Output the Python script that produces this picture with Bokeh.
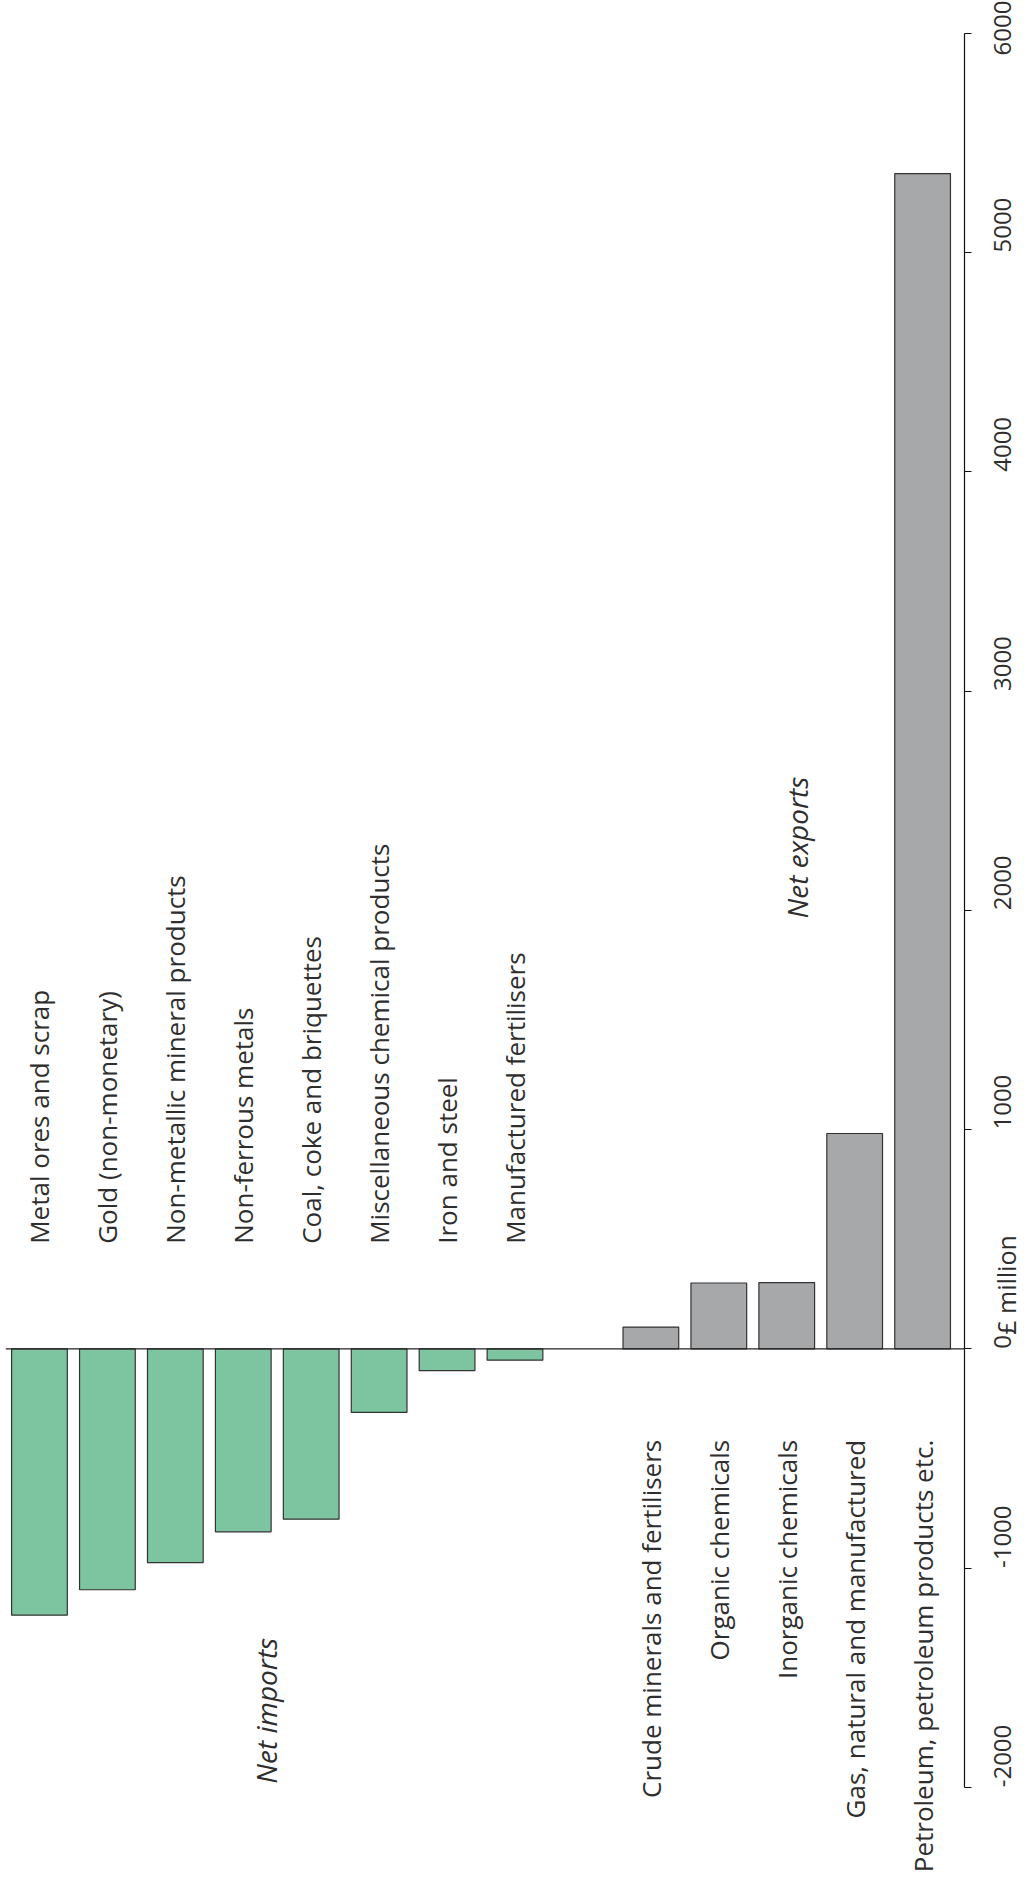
import math
from bokeh.plotting import figure
from bokeh.models import ColumnDataSource, FactorRange, Range1d, FixedTicker, Label
from bokeh.core.properties import value
from bokeh.transform import dodge
from bokeh.embed import file_html
from bokeh.resources import INLINE

# ---- data ----
import_categories = [
    "Metal ores and scrap",
    "Gold (non-monetary)",
    "Non-metallic mineral products",
    "Non-ferrous metals",
    "Coal, coke and briquettes",
    "Miscellaneous chemical products",
    "Iron and steel",
    "Manufactured fertilisers",
]
import_values = [-1215, -1099, -975, -835, -777, -290, -100, -52]

export_categories = [
    "Crude minerals and fertilisers",
    "Organic chemicals",
    "Inorganic chemicals",
    "Gas, natural and manufactured",
    "Petroleum, petroleum products etc.",
]
export_values = [99, 300, 302, 982, 5360]

value_ticks = [-2000, -1000, 0, 1000, 2000, 3000, 4000, 5000, 6000]
tick_overrides = {-2000: "-2000", -1000: "-1000"}
unit_label = "£ million"
imports_title = "Net imports"
exports_title = "Net exports"

# ---- style ----
FONT = "Open Sans"
TEXT = "#2e2e2e"
GREEN = "#7dc4a0"
GREY = "#a7a8aa"
OUTLINE = "#333333"

factors = import_categories + [" "] + export_categories + ["  "]
AXIS_X = 14.117  # synthetic x of the value axis

p = figure(
    width=1024, height=1890,
    x_range=FactorRange(*factors, range_padding=0),
    y_range=Range1d(-2470.7, 6149.6),
    x_axis_location=None, y_axis_location="right",
    output_backend="svg", toolbar_location=None,
    min_border_left=5, min_border_top=0, min_border_bottom=0, min_border_right=0,
)
p.outline_line_color = None
p.grid.visible = False
p.background_fill_color = "white"

imp_src = ColumnDataSource(dict(cat=import_categories, val=import_values))
exp_src = ColumnDataSource(dict(cat=export_categories, val=export_values))

p.vbar(x="cat", top="val", bottom=0, width=0.82, source=imp_src,
       fill_color=GREEN, line_color=OUTLINE, line_width=1.2)
p.vbar(x="cat", top="val", bottom=0, width=0.82, source=exp_src,
       fill_color=GREY, line_color=OUTLINE, line_width=1.2)

# zero line
p.segment(x0=0, y0=0, x1=AXIS_X, y1=0, line_color="#222222", line_width=1.3)

# category labels
p.text(x="cat", y=479, text="cat", source=imp_src, angle=math.pi / 2,
       text_align="left", text_baseline="middle", text_font=value(FONT),
       text_font_size="26px", text_color=TEXT)
p.text(x="cat", y=-415, text="cat", source=exp_src, angle=math.pi / 2,
       text_align="right", text_baseline="middle", text_font=value(FONT),
       text_font_size="26px", text_color=TEXT)

# group titles
ttl_src = ColumnDataSource(dict(cat=["Non-ferrous metals"], t=[imports_title]))
p.text(x=dodge("cat", 0.34, range=p.x_range), y=-1651, text="t", source=ttl_src,
       angle=math.pi / 2, text_align="center", text_baseline="middle",
       text_font=value(FONT), text_font_style="italic", text_font_size="28px",
       text_color=TEXT)
ttl2_src = ColumnDataSource(dict(cat=["Inorganic chemicals"], t=[exports_title]))
p.text(x=dodge("cat", 0.15, range=p.x_range), y=2286, text="t", source=ttl2_src,
       angle=math.pi / 2, text_align="center", text_baseline="middle",
       text_font=value(FONT), text_font_style="italic", text_font_size="28px",
       text_color=TEXT)

# value axis
ax = p.yaxis[0]
ax.fixed_location = AXIS_X
ax.ticker = FixedTicker(ticks=value_ticks)
ax.major_label_overrides = tick_overrides
ax.bounds = (value_ticks[0], value_ticks[-1])
ax.axis_line_color = "#111111"
ax.axis_line_width = 1.2
ax.major_tick_line_color = "#111111"
ax.major_tick_line_width = 1.2
ax.major_tick_in = 0
ax.major_tick_out = 7
ax.minor_tick_line_color = None
ax.major_label_orientation = math.pi / 2
ax.major_label_standoff = 31
ax.major_label_text_font = FONT
ax.major_label_text_font_size = "24px"
ax.major_label_text_color = TEXT

p.add_layout(Label(x=1000, x_units="screen", y=64, y_units="data", text=unit_label,
                   angle=math.pi / 2, text_align="left", text_baseline="middle",
                   text_font=FONT, text_font_size="25px", text_color=TEXT))

open("out.html", "w").write(file_html(p, INLINE))
